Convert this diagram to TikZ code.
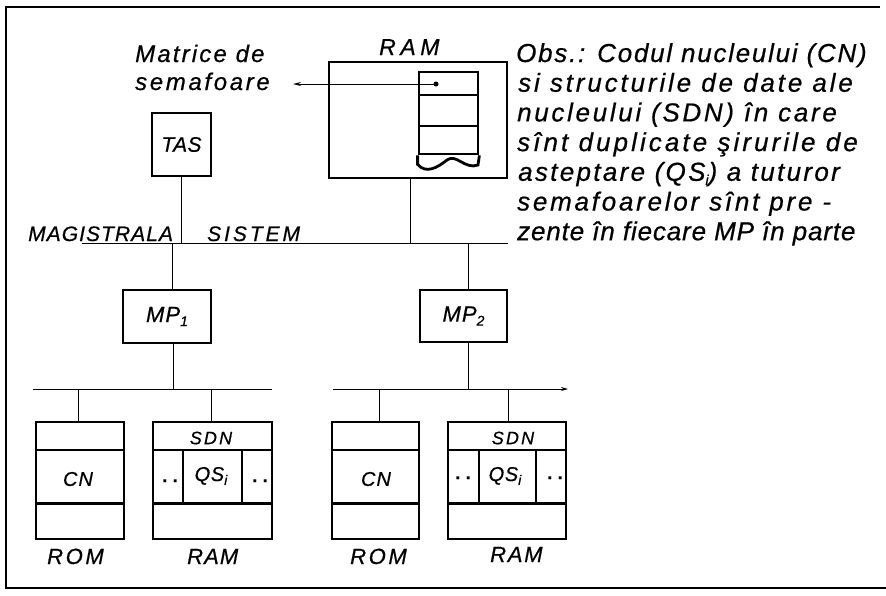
\documentclass[tikz,border=0pt]{standalone}
\usepackage{fontspec}
\setmainfont{Liberation Sans}
\newfontfamily\hand{Liberation Sans}[FakeBold=0.6]
\usetikzlibrary{arrows.meta,calc}
\newcommand{\lowidx}[1]{\raisebox{-4pt}{\fontsize{14}{14}\selectfont #1}}
\begin{document}
\begin{tikzpicture}[x=1pt,y=-1pt,
  box/.style={draw, line width=2.8pt, inner sep=0pt},
  thickl/.style={line width=2.8pt},
  conn/.style={line width=0.9pt},
  framel/.style={line width=1.6pt},
  hw/.style 2 args={inner sep=0pt, font=\hand\itshape\fontsize{#1}{24}\selectfont\addfontfeature{LetterSpace=#2}},
  dotstxt/.style={inner sep=0pt, anchor=base, font=\hand\bfseries\fontsize{18}{24}\selectfont\addfontfeature{LetterSpace=30}},
  obs/.style={inner sep=0pt, anchor=base west, font=\hand\itshape\fontsize{26}{28}\selectfont\addfontfeature{LetterSpace=#1}},
]
\useasboundingbox (0,0) rectangle (886,595);

% frame (three sides as printed)
\coordinate (ftr) at (880,7);
\coordinate (ftl) at (6,7);
\coordinate (fbl) at (6,588);
\coordinate (fbr) at (886,588);
\draw[framel] (ftr) -- (ftl) -- (fbl) -- (fbr);

% ---- top: RAM with semaphore matrix
\node[hw={23}{20}, anchor=base west] (ramtoplbl) at (379,55) {RAM};
\node[box, minimum width=178pt, minimum height=116pt] (ram0) at (418,120) {};
\node[box, minimum width=59pt, minimum height=23pt] (st1) at (448.5,83.5) {};
\node[box, minimum width=59pt, minimum height=31pt] (st2) at (448.5,110.5) {};
\node[box, minimum width=59pt, minimum height=28pt] (st3) at (448.5,140) {};
\draw[thickl] (st3.south west) -- ++(0,9) .. controls (426,174) and (437,168) .. (447,160) .. controls (456,153) and (465,170) .. (478,165) -- (st3.south east);
\node[circle, fill, inner sep=0pt, minimum size=5pt] (dot) at (436,84) {};
\coordinate (matarr) at (293,84);
\draw[conn, -{Stealth[length=8pt,width=4pt]}] (dot.center) -- (matarr);

\node[hw={24}{9}, anchor=base west] (mat1) at (135,62) {Matrice de};
\node[hw={24}{11}, anchor=base west] (mat2) at (135,90) {semafoare};

% TAS
\node[box, minimum width=59pt, minimum height=63pt, hw={21}{2}] (tas) at (181.5,144.5) {TAS};

% system bus
\coordinate (busL) at (82,243);
\coordinate (busR) at (508,243);
\draw[conn] (busL) -- (busR);
\node[hw={21}{5}, anchor=base west] (mag) at (28,241) {MAGISTRALA};
\node[hw={21}{14}, anchor=base west] (sis) at (207,241) {SISTEM};
\draw[conn] (tas.south) -- (tas.south |- busL);
\draw[conn] ([xshift=-8pt]ram0.south) -- ([xshift=-8pt]ram0.south |- busL);

% processors
\node[box, minimum width=88pt, minimum height=53pt, hw={22}{5}] (mp1) at (167,316.5) {MP\lowidx{1}};
\node[box, minimum width=87pt, minimum height=52pt, hw={22}{5}] (mp2) at (463.5,316) {MP\lowidx{2}};
\draw[conn] ([xshift=5pt]mp1.north) -- ([xshift=5pt]mp1.north |- busL);
\draw[conn] ([xshift=4.5pt]mp2.north) -- ([xshift=4.5pt]mp2.north |- busL);

% local buses
\coordinate (lb1a) at (33,389);
\coordinate (lb1b) at (272,389);
\coordinate (lb2a) at (333,389);
\coordinate (lb2b) at (568,389);
\draw[conn] (lb1a) -- (lb1b);
\draw[conn, -{Stealth[length=7pt,width=4pt]}] (lb2a) -- (lb2b);
\draw[conn] ([xshift=6pt]mp1.south) -- ([xshift=6pt]mp1.south |- lb1a);
\draw[conn] ([xshift=4.5pt]mp2.south) -- ([xshift=4.5pt]mp2.south |- lb2a);

% memories
\node[box, minimum width=88pt, minimum height=117pt] (rom1) at (80,480.5) {};
\node[box, minimum width=119pt, minimum height=117pt] (ram1) at (212.5,480.5) {};
\node[box, minimum width=87pt, minimum height=117pt] (rom2) at (375.5,480.5) {};
\node[box, minimum width=118pt, minimum height=117pt] (ram2) at (507,480.5) {};
\foreach \m in {rom1,ram1,rom2,ram2}{
  \draw[thickl] (\m.west |- 0,450) -- (\m.east |- 0,450);
  \draw[thickl] (\m.west |- 0,503.5) -- (\m.east |- 0,503.5);
}
\draw[thickl] (183,450) -- (183,503.5);
\draw[thickl] (242,450) -- (242,503.5);
\draw[thickl] (479,450) -- (479,503.5);
\draw[thickl] (536,450) -- (536,503.5);

\draw[conn] ([xshift=-2pt]rom1.north) -- ([xshift=-2pt]rom1.north |- lb1a);
\draw[conn] ([xshift=-1.5pt]ram1.north) -- ([xshift=-1.5pt]ram1.north |- lb1a);
\draw[conn] ([xshift=3.5pt]rom2.north) -- ([xshift=3.5pt]rom2.north |- lb2a);
\draw[conn] ([xshift=1pt]ram2.north) -- ([xshift=1pt]ram2.north |- lb2a);

\node[hw={20}{5}] (cn1) at (78,479) {CN};
\node[hw={20}{5}] (cn2) at (376,479) {CN};
\node[hw={18}{12}] (sdn1) at (211,438) {SDN};
\node[hw={18}{12}] (sdn2) at (513,438) {SDN};
\node[hw={20}{3}] (qs1) at (211,476) {QS\lowidx{\itshape i}};
\node[hw={20}{3}] (qs2) at (505,476) {QS\lowidx{\itshape i}};
\node[dotstxt] (d1) at (170,482) {..};
\node[dotstxt] (d2) at (260,482) {..};
\node[dotstxt] (d3) at (463,479) {..};
\node[dotstxt] (d4) at (555,479) {..};

\node[hw={22}{12}, anchor=base west] (lrom1) at (47,564) {ROM};
\node[hw={22}{5}, anchor=base west] (lram1) at (187,564) {RAM};
\node[hw={22}{12}, anchor=base west] (lrom2) at (350,564) {ROM};
\node[hw={22}{8}, anchor=base west] (lram2) at (490,562) {RAM};

% observation text
\node[obs=6.7] (obs1) at (516,62) {Obs.: Codul nucleului (CN)};
\node[obs=11] (obs2) at (518,91.7) {si structurile de date ale};
\node[obs=10.3] (obs3) at (517,121.4) {nucleului (SDN) în care};
\node[obs=11.8] (obs4) at (517,151.1) {sînt duplicate şirurile de};
\node[obs=8.9] (obs5) at (518,180.8) {asteptare (QS\lowidx{\itshape i}) a tuturor};
\node[obs=10.6] (obs6) at (517,210.5) {semafoarelor sînt pre -};
\node[obs=3.3] (obs7) at (517,240.2) {zente în fiecare MP în parte};
\end{tikzpicture}
\end{document}
